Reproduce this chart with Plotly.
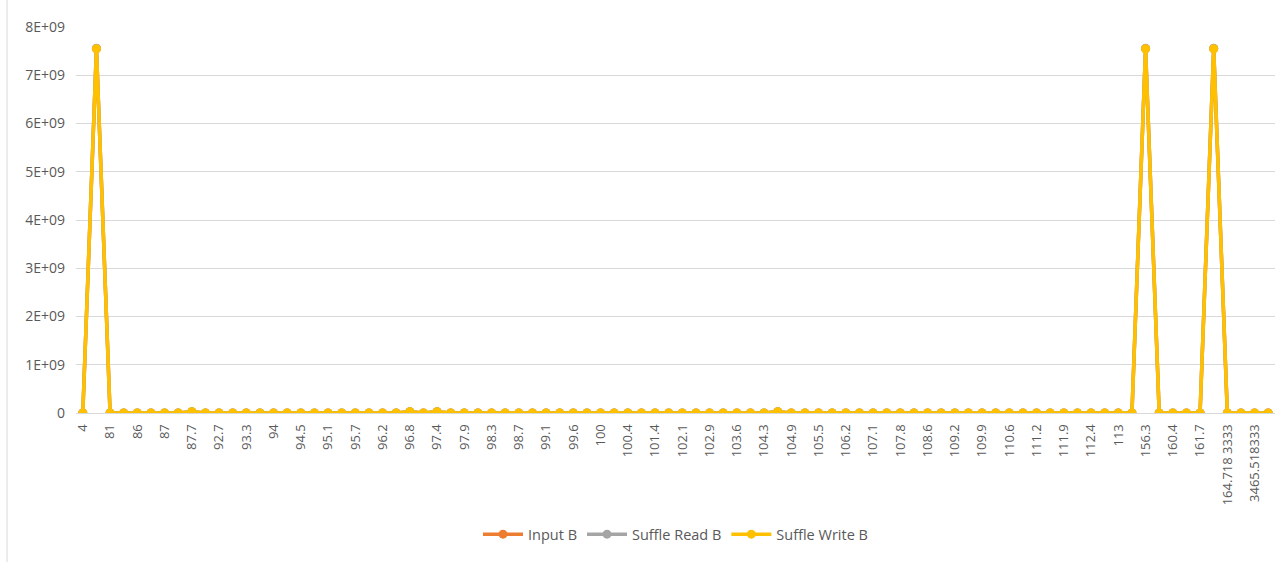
import plotly.graph_objects as go

# Category labels drawn on the axis (every second category carries a label)
tick_labels = [
    "4", "81", "86", "87", "87.7", "92.7", "93.3", "94", "94.5", "95.1",
    "95.7", "96.2", "96.8", "97.4", "97.9", "98.3", "98.7", "99.1", "99.6", "100",
    "100.4", "101.4", "102.1", "102.9", "103.6", "104.3", "104.9", "105.5", "106.2", "107.1",
    "107.8", "108.6", "109.2", "109.9", "110.6", "111.2", "111.9", "112.4", "113", "156.3",
    "160.4", "161.7", "164.718 3333", "3465.518333",
]

# Byte counts per category (88 categories)
input_b = [
    0, 7.55e9, 0, 0, 0, 0, 0, 0, 2.5e7, 0,
    0, 0, 0, 0, 0, 0, 0, 0, 0, 0,
    0, 0, 0, 0, 2.5e7, 0, 2.5e7, 0, 0, 0,
    0, 0, 0, 0, 0, 0, 0, 0, 0, 0,
    0, 0, 0, 0, 0, 0, 0, 0, 0, 0,
    0, 2.5e7, 0, 0, 0, 0, 0, 0, 0, 0,
    0, 0, 0, 0, 0, 0, 0, 0, 0, 0,
    0, 0, 0, 0, 0, 0, 0, 0, 7.55e9, 0,
    0, 0, 0, 7.55e9, 0, 0, 0, 0,
]
shuffle_read_b = [
    0, 7.56e9, 0, 0, 0, 0, 0, 0, 2.5e7, 0,
    0, 0, 0, 0, 0, 0, 0, 0, 0, 0,
    0, 0, 0, 0, 2.5e7, 0, 2.5e7, 0, 0, 0,
    0, 0, 0, 0, 0, 0, 0, 0, 0, 0,
    0, 0, 0, 0, 0, 0, 0, 0, 0, 0,
    0, 2.5e7, 0, 0, 0, 0, 0, 0, 0, 0,
    0, 0, 0, 0, 0, 0, 0, 0, 0, 0,
    0, 0, 0, 0, 0, 0, 0, 0, 7.56e9, 0,
    0, 0, 0, 7.56e9, 0, 0, 0, 0,
]
shuffle_write_b = [
    0, 7.55e9, 0, 0, 0, 0, 0, 0, 2.5e7, 0,
    0, 0, 0, 0, 0, 0, 0, 0, 0, 0,
    0, 0, 0, 0, 2.5e7, 0, 2.5e7, 0, 0, 0,
    0, 0, 0, 0, 0, 0, 0, 0, 0, 0,
    0, 0, 0, 0, 0, 0, 0, 0, 0, 0,
    0, 2.5e7, 0, 0, 0, 0, 0, 0, 0, 0,
    0, 0, 0, 0, 0, 0, 0, 0, 0, 0,
    0, 0, 0, 0, 0, 0, 0, 0, 7.55e9, 0,
    0, 0, 0, 7.55e9, 0, 0, 0, 0,
]

y_ticks = [0, 1e9, 2e9, 3e9, 4e9, 5e9, 6e9, 7e9, 8e9]
y_tick_text = ["0", "1E+09", "2E+09", "3E+09", "4E+09", "5E+09", "6E+09", "7E+09", "8E+09"]

positions = list(range(len(shuffle_write_b)))
tick_positions = positions[::2][:len(tick_labels)]

series = [
    ("Input B", input_b, "#ED7D31"),
    ("Suffle Read B", shuffle_read_b, "#A5A5A5"),
    ("Suffle Write B", shuffle_write_b, "#FFC000"),
]

fig = go.Figure()
for name, values, color in series:
    fig.add_trace(go.Scatter(
        x=positions, y=values, name=name, mode="lines+markers",
        line=dict(color=color, width=3.5),
        marker=dict(color=color, size=9),
    ))

fig.update_layout(
    width=1287, height=562,
    margin=dict(l=76, r=12, t=27, b=146),
    paper_bgcolor="white", plot_bgcolor="white",
    font=dict(family="Open Sans, Noto Sans, sans-serif", color="#595959", size=13),
    showlegend=True,
    legend=dict(orientation="h", x=0.5, xanchor="center", y=-0.314, yanchor="middle",
                font=dict(size=14.5, color="#595959"), itemwidth=40),
    xaxis=dict(
        range=[-0.5, len(positions) - 0.5],
        tickmode="array", tickvals=tick_positions, ticktext=tick_labels,
        tickangle=-90, showgrid=False, zeroline=False,
        showline=True, linecolor="#D9D9D9", linewidth=1,
        ticks="", ticklabelstandoff=5,
        tickfont=dict(size=13, color="#595959"),
    ),
    yaxis=dict(
        range=[0, 8e9],
        tickmode="array", tickvals=y_ticks, ticktext=y_tick_text,
        showgrid=True, gridcolor="#D9D9D9", gridwidth=1,
        zeroline=False, showline=False, ticks="",
        ticklabelstandoff=10,
        tickfont=dict(size=14, color="#595959"),
    ),
    shapes=[dict(type="line", xref="paper", yref="paper",
                 x0=-0.0575, x1=-0.0575, y0=-0.4, y1=1.07,
                 line=dict(color="#D9D9D9", width=1))],
)

fig.write_html("out.html")
